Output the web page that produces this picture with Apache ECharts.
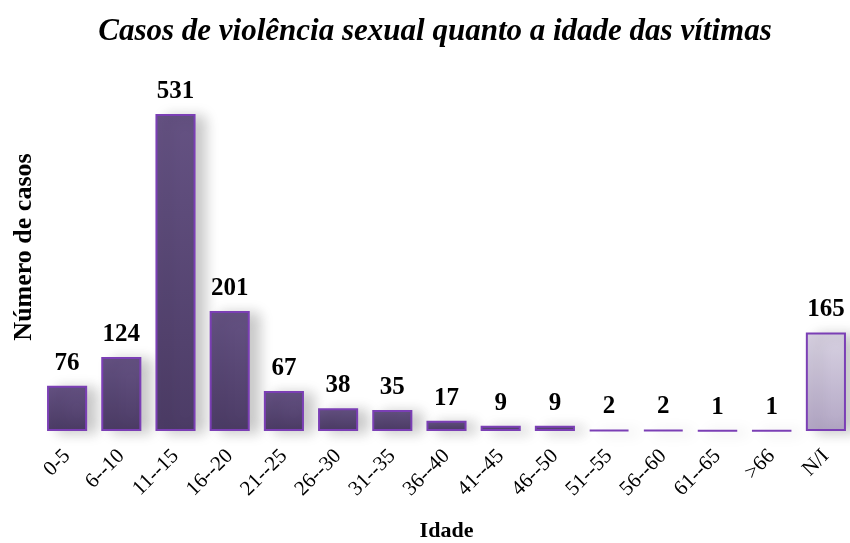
<!DOCTYPE html>
<html>
<head>
<meta charset="utf-8">
<script src="https://cdn.jsdelivr.net/npm/echarts@6/dist/echarts.min.js"></script>
<style>
html, body { margin: 0; padding: 0; background: #fff; }
#main { width: 850px; height: 543px; }
</style>
</head>
<body>
<div id="main"></div>
<script>
// faixas etarias e numero de casos
var idades = ['0-5', '6--10', '11--15', '16--20', '21--25', '26--30', '31--35', '36--40', '41--45', '46--50', '51--55', '56--60', '61--65', '>66', 'N/I'];
var casos = [76, 124, 531, 201, 67, 38, 35, 17, 9, 9, 2, 2, 1, 1, 165];

var serif = '"Liberation Serif", "Times New Roman", serif';

var corBarra = new echarts.graphic.LinearGradient(0, 0, 0, 1, [
    { offset: 0, color: '#655283' },
    { offset: 1, color: '#4c3c66' }
]);
var corNI = new echarts.graphic.LinearGradient(0, 0, 0, 1, [
    { offset: 0, color: '#d8d2e2' },
    { offset: 1, color: '#b3a7c5' }
]);

var dados = casos.map(function (v, i) {
    return {
        value: v,
        itemStyle: { color: idades[i] === 'N/I' ? corNI : corBarra }
    };
});

var myChart = echarts.init(document.getElementById('main'));
var option = {
    animation: false,
    title: {
        text: 'Casos de violência sexual quanto a idade das vítimas',
        left: 430,
        textAlign: 'center',
        top: 11,
        textStyle: {
            fontFamily: serif,
            fontStyle: 'italic',
            fontWeight: 'bold',
            fontSize: 31,
            color: '#000'
        }
    },
    graphic: [{
        type: 'text',
        x: 24,
        y: 247,
        rotation: Math.PI / 2,
        style: {
            text: 'Número de casos',
            font: 'bold 26px ' + serif,
            fill: '#000',
            textAlign: 'center',
            textVerticalAlign: 'middle'
        }
    }],
    grid: {
        left: 40,
        right: -3,
        top: 114,
        bottom: 112,
        containLabel: false,
        outerBoundsMode: 'none'
    },
    xAxis: {
        type: 'category',
        data: idades,
        name: 'Idade',
        nameLocation: 'middle',
        nameGap: 89,
        nameTextStyle: {
            fontFamily: serif,
            fontWeight: 'bold',
            fontSize: 22,
            color: '#000'
        },
        axisLine: { show: false },
        axisTick: { show: false },
        axisLabel: {
            interval: 0,
            rotate: 45,
            margin: 22,
            fontFamily: serif,
            fontSize: 21,
            color: '#000'
        }
    },
    yAxis: {
        type: 'value',
        min: 0,
        max: 531,
        show: false,
        splitLine: { show: false }
    },
    series: [{
        type: 'bar',
        data: dados,
        barCategoryGap: '26%',
        itemStyle: {
            borderColor: '#7b3fb5',
            borderWidth: 2,
            shadowColor: 'rgba(0,0,0,0.22)',
            shadowBlur: 14,
            shadowOffsetX: 10,
            shadowOffsetY: 2
        },
        label: {
            show: true,
            position: 'top',
            distance: 10,
            fontFamily: serif,
            fontWeight: 'bold',
            fontSize: 25,
            color: '#000'
        }
    }]
};
myChart.setOption(option, true);
</script>
</body>
</html>
